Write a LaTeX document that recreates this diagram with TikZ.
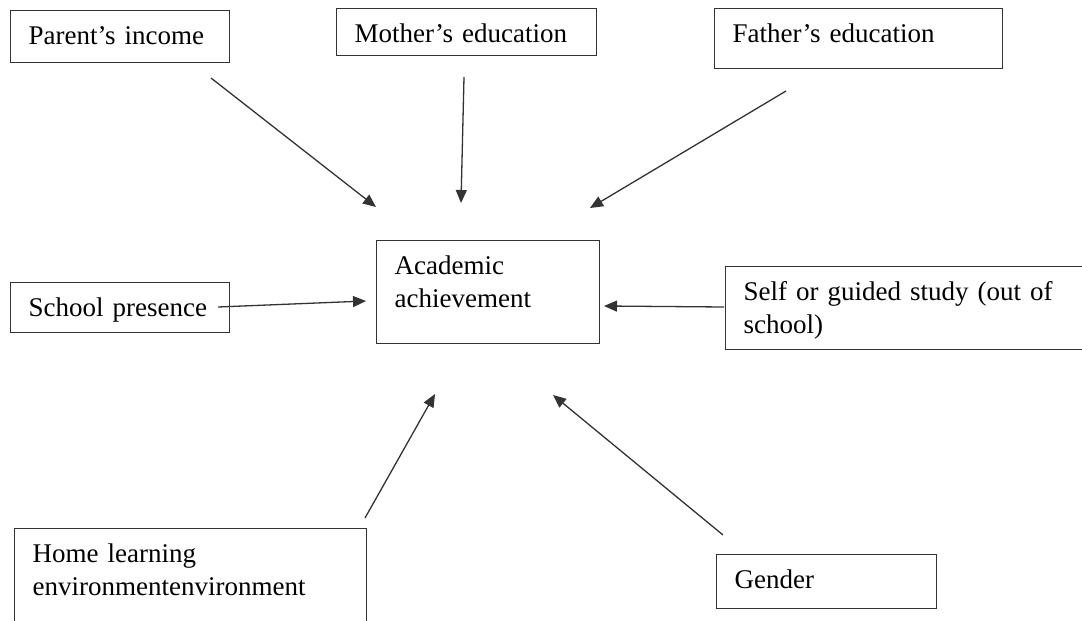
\documentclass[tikz,border=0pt]{standalone}
\usepackage{fontspec}
\setmainfont{Liberation Serif}
\usepackage{tikz}
\usetikzlibrary{arrows.meta}
\definecolor{FrameGray}{HTML}{333333}
\tikzset{
  factor/.style={draw=FrameGray, line width=1.4pt, anchor=north west,
    align=left, inner xsep=18pt, inner ysep=0pt, text height=34pt,
    font=\fontsize{27}{33}\selectfont},
  wire/.style={-{Triangle[length=13pt,width=11pt]}, line width=1.3pt, draw=FrameGray}
}
\begin{document}
\begin{tikzpicture}[x=1pt, y=-1pt]
  \useasboundingbox (0,0) rectangle (1082,621);
  \node[factor, text width=183pt, text depth=18pt] (income) at (10,10) {Parent’s income};
  \node[factor, text width=224pt, text depth=13pt] (mother) at (336,8) {Mother’s education};
  \node[factor, text width=252pt, text depth=26pt] (father) at (714,8) {Father’s education};
  \node[factor, text width=183pt, text depth=16pt] (presence) at (10,282) {School presence};
  \node[factor, text width=187pt, text depth=69pt] (achieve) at (376,240) {Academic\\achievement};
  \node[factor, text width=330pt, text depth=49pt] (study) at (725,266) {Self or guided study (out of\\school)};
  \node[factor, text width=316pt, text depth=70pt] (home) at (14,528) {Home learning\\environmentenvironment};
  \node[factor, text width=184pt, text depth=20pt] (gender) at (716,554) {Gender};
  % free ends of the arrows
  \coordinate (income-tail) at (211,78);
  \coordinate (income-head) at (376,207);
  \coordinate (mother-tail) at (464,77);
  \coordinate (mother-head) at (461,203);
  \coordinate (father-tail) at (786,91);
  \coordinate (father-head) at (590,208);
  \coordinate (presence-tail) at (218,307);
  \coordinate (presence-head) at (366,301);
  \coordinate (study-tail) at (724,307);
  \coordinate (study-head) at (604,306);
  \coordinate (home-tail) at (365,518);
  \coordinate (home-head) at (435,394);
  \coordinate (gender-tail) at (723,535);
  \coordinate (gender-head) at (553,395);
  \draw[wire] (income-tail) -- (income-head);
  \draw[wire] (mother-tail) -- (mother-head);
  \draw[wire] (father-tail) -- (father-head);
  \draw[wire] (presence-tail) -- (presence-head);
  \draw[wire] (study-tail) -- (study-head);
  \draw[wire] (home-tail) -- (home-head);
  \draw[wire] (gender-tail) -- (gender-head);
\end{tikzpicture}
\end{document}
